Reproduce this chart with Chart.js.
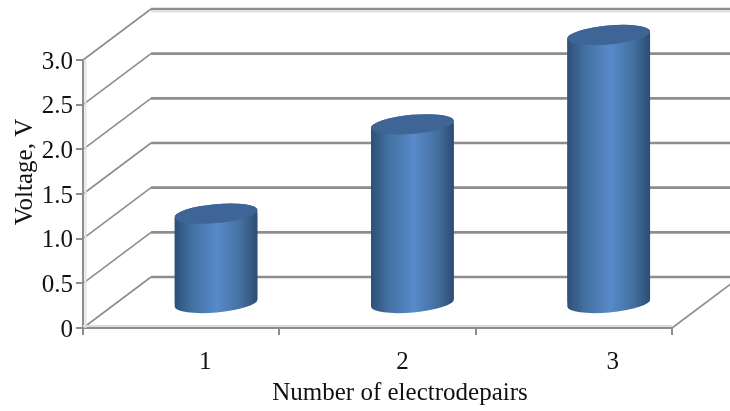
<!DOCTYPE html>
<html>
<head>
<meta charset="utf-8">
<style>
  body { margin: 0; background: #fff; }
</style>
<script src="https://cdn.jsdelivr.net/npm/chart.js@4"></script>
</head>
<body>
<canvas id="chart" width="730" height="411"></canvas>
<script>
const categories = ["1", "2", "3"];
const voltage = [1.0, 2.0, 3.0];
const yTicks = [0, 0.5, 1.0, 1.5, 2.0, 2.5, 3.0];
const xTitle = "Number of electrodepairs";
const yTitle = "Voltage, V";

const FONT = "Liberation Serif";
const GRID = "#8d8d8d";
const depthX = 68;
const depthY = 51;
const tilt = -0.09;
const capRy = 9.5;
const barPercentage = 0.423;

function line(ctx, x1, y1, x2, y2, color, width) {
  ctx.strokeStyle = color;
  ctx.lineWidth = width;
  ctx.beginPath();
  ctx.moveTo(x1, y1);
  ctx.lineTo(x2, y2);
  ctx.stroke();
}

function barGradient(ctx, x, width) {
  const left = x - width / 2;
  const g = ctx.createLinearGradient(left, 0, left + width, 0);
  g.addColorStop(0, "#2d4f78");
  g.addColorStop(0.2, "#416f9f");
  g.addColorStop(0.52, "#588aca");
  g.addColorStop(0.8, "#446f9f");
  g.addColorStop(1, "#2c4c72");
  return g;
}

// side of the cylinder, follows the tilt of the two ellipses
function cylinderPath(ctx, bar) {
  const rx = bar.width / 2;
  ctx.moveTo(bar.x - rx * Math.cos(tilt), bar.y - rx * Math.sin(tilt));
  ctx.ellipse(bar.x, bar.y, rx, capRy, tilt, Math.PI, 2 * Math.PI);
  ctx.ellipse(bar.x, bar.base, rx, capRy, tilt, 0, Math.PI);
  ctx.closePath();
}

const wallsPlugin = {
  id: "walls",
  beforeDatasetsDraw(chart) {
    const { ctx, chartArea, scales } = chart;
    const left = chartArea.left;
    const floorRight = scales.x.getPixelForTick(0) + (scales.x.getPixelForTick(1) - scales.x.getPixelForTick(0)) * 2.5;
    const zero = scales.y.getPixelForValue(0);
    ctx.save();
    yTicks.forEach((v) => {
      const y = scales.y.getPixelForValue(v);
      const backY = y - depthY;
      line(ctx, left, y, left + depthX, backY, GRID, 1.6);
      line(ctx, left + depthX, backY, 730, backY, GRID, 2.6);
    });
    const topBack = scales.y.getPixelForValue(3) - depthY;
    line(ctx, left + depthX, topBack + 2.5, 730, topBack + 2.5, "#e2e2e2", 2);
    line(ctx, left + 2.5, scales.y.getPixelForValue(3), left + 2.5, zero, "#e2e2e2", 2);
    line(ctx, left, zero - 2, floorRight, zero - 2, "#dcdcdc", 2);
    line(ctx, floorRight, zero, floorRight + depthX, zero - depthY, GRID, 1.6);
    ctx.restore();
  },
  beforeDatasetDraw(chart, args) {
    const ctx = chart.ctx;
    const bars = chart.getDatasetMeta(args.index).data;
    ctx.save();
    bars.forEach((bar) => {
      ctx.fillStyle = barGradient(ctx, bar.x, bar.width);
      ctx.beginPath();
      cylinderPath(ctx, bar);
      ctx.fill();
    });
    ctx.beginPath();
    bars.forEach((bar) => cylinderPath(ctx, bar));
    ctx.clip();
  },
  afterDatasetDraw(chart, args) {
    const ctx = chart.ctx;
    ctx.restore();
    chart.getDatasetMeta(args.index).data.forEach((bar) => {
      ctx.fillStyle = "#3e6596";
      ctx.beginPath();
      ctx.ellipse(bar.x, bar.y, bar.width / 2, capRy, tilt, 0, 2 * Math.PI);
      ctx.fill();
    });
  },
  afterDraw(chart) {
    const ctx = chart.ctx;
    const { x } = chart.scales;
    ctx.save();
    ctx.fillStyle = "#111";
    ctx.textAlign = "center";
    ctx.textBaseline = "middle";
    ctx.font = `25px "${FONT}"`;
    // the category labels sit off the tick centres in the original
    const labelShift = [24, 25, 39];
    categories.forEach((c, i) => {
      ctx.fillText(c, x.getPixelForValue(i) + labelShift[i], 362);
    });
    ctx.fillText(xTitle, 400, 393);
    ctx.translate(25, 172);
    ctx.rotate(-Math.PI / 2);
    ctx.fillText(yTitle, 0, 0);
    ctx.restore();
  },
};

const ctx = document.getElementById("chart").getContext("2d");
new Chart(ctx, {
  type: "bar",
  data: {
    labels: categories,
    datasets: [
      {
        label: "Voltage",
        data: categories.map((c, i) => ({ x: Number(c), y: voltage[i] })),
        xAxisID: "xBar",
        yAxisID: "yBar",
        backgroundColor: (c) => {
          const scale = c.chart.scales.xBar;
          // options also get resolved before the first layout, when pixels are still NaN
          const step = scale.getPixelForValue(1) - scale.getPixelForValue(0);
          if (c.type !== "data" || !Number.isFinite(step)) return "#4f7fb8";
          return barGradient(c.chart.ctx, scale.getPixelForValue(c.raw.x), step * barPercentage);
        },
        borderWidth: 0,
        barPercentage: barPercentage,
        categoryPercentage: 1,
        clip: false,
      },
    ],
  },
  options: {
    responsive: false,
    animation: false,
    layout: { padding: { top: 60, right: 58, left: 0, bottom: 0 } },
    plugins: {
      legend: { display: false },
      title: { display: false },
      tooltip: { enabled: false },
    },
    scales: {
      x: {
        type: "category",
        offset: true,
        afterFit: (scale) => { scale.height = 83; },
        grid: {
          offset: true,
          drawOnChartArea: false,
          color: GRID,
          lineWidth: 2,
          tickLength: 7,
        },
        border: { color: GRID, width: 2 },
        ticks: { display: false },
      },
      y: {
        min: 0,
        max: 3,
        afterFit: (scale) => { scale.width = 83; },
        afterBuildTicks: (scale) => { scale.ticks = yTicks.map((value) => ({ value })); },
        grid: {
          drawOnChartArea: false,
          color: GRID,
          lineWidth: 2,
          tickLength: 7,
        },
        border: { color: GRID, width: 2 },
        ticks: {
          color: "#111",
          padding: 3,
          labelOffset: 2,
          font: { family: FONT, size: 25 },
          callback: (v) => (v === 0 ? "0" : v.toFixed(1)),
        },
      },
      // bars stand in the middle of the floor, so they get shifted copies of the axes
      xBar: {
        type: "linear",
        display: false,
        offset: false,
        min: 0.3224,
        max: 3.3224,
        afterBuildTicks: (scale) => { scale.ticks = categories.map((c) => ({ value: Number(c) })); },
      },
      yBar: { type: "linear", display: false, min: -0.28, max: 2.72 },
    },
  },
  plugins: [wallsPlugin],
});
</script>
</body>
</html>
